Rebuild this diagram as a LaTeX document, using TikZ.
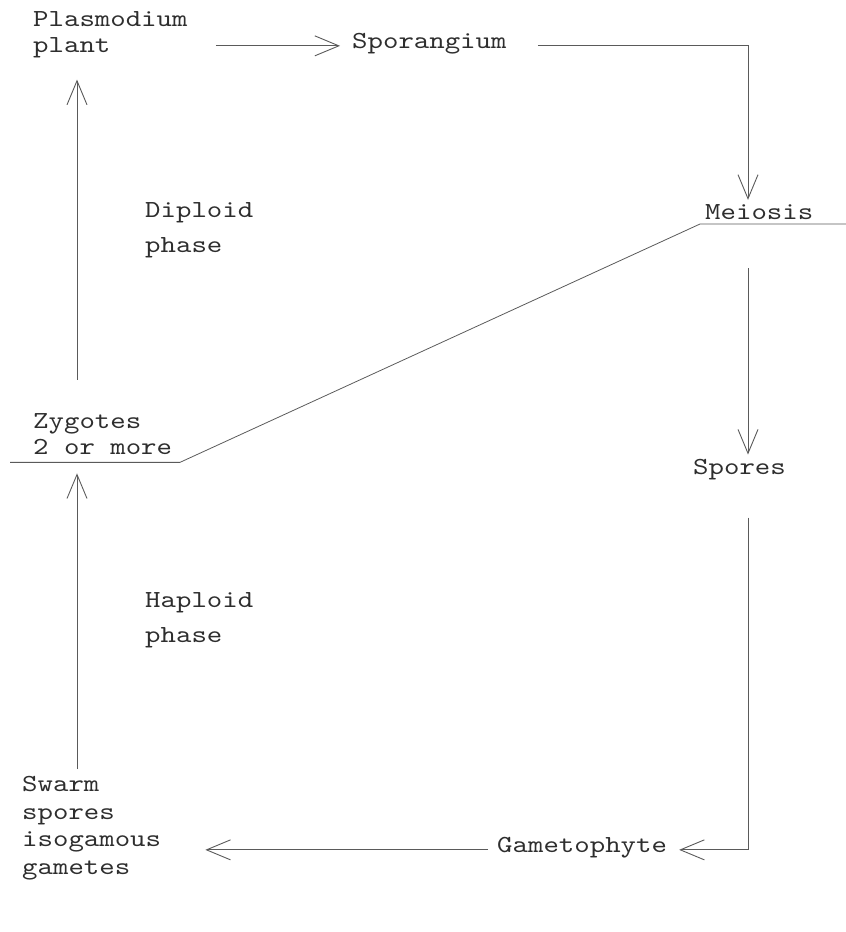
\documentclass[tikz,border=0pt]{standalone}
\usepackage{fontspec}
\newfontfamily\twfont{lmmono10-regular.otf}[FakeStretch=1.2]
\usetikzlibrary{arrows.meta}
\definecolor{ink}{HTML}{2E2E2E}
\definecolor{pen}{HTML}{5A5A5A}
\begin{document}
\begin{tikzpicture}[x=1pt,y=-1pt,
  lbl/.style={font=\twfont\fontsize{24.5}{26}\selectfont,
    text=ink, inner sep=0pt, align=left, anchor=base west},
  wide/.style={font=\twfont\fontsize{24.5}{35}\selectfont},
  ln/.style={draw=pen, line width=0.8pt},
  vh/.style={-{Straight Barb[length=24pt,width=20pt,line width=0.9pt]}}]
\useasboundingbox (0,0) rectangle (846,932);
\coordinate (rc) at (748,0);
\coordinate (lc) at (77,0);
% nodes (base anchor = baseline of the last line)
\node[lbl] (plas) at (33,52) {Plasmodium\\plant};
\node[lbl] (spor) at (352,48) {Sporangium};
\node[lbl] (meio) at (705,219) {Meiosis};
\node[lbl,wide] (dip) at (145,252) {Diploid\\phase};
\node[lbl] (zyg) at (33,454) {Zygotes\\2 or more};
\node[lbl] (spo) at (693,474) {Spores};
\node[lbl,wide] (hap) at (145,642) {Haploid\\phase};
\node[lbl] (game) at (497,852) {Gametophyte};
\node[lbl,font=\twfont\fontsize{24.5}{27.5}\selectfont] (swarm) at (22,874) {Swarm\\spores\\isogamous\\gametes};
% connectors
\draw[ln,vh] ([xshift=28pt]plas.east |- spor.mid west) -- ([xshift=-12pt]spor.mid west);
\draw[ln,vh] ([xshift=31pt]spor.mid east) -| ([yshift=4pt]meio.north -| rc);
\draw[ln,vh] ([yshift=-49pt]meio.base -| rc) -- ([yshift=4pt]spo.north -| rc);
\draw[ln,vh] ([yshift=-38pt]spo.south -| rc) |- ([xshift=12pt]game.mid east);
\draw[ln,vh] ([xshift=-9pt]game.mid west) -- ([xshift=44pt]swarm.east |- game.mid west);
\draw[ln,vh] ([yshift=7pt]swarm.north -| lc) -- ([yshift=-19pt]zyg.south -| lc);
\draw[ln,vh] ([yshift=33pt]zyg.north -| lc) -- ([yshift=-22pt]plas.south -| lc);
% meiosis / zygote link with underlines
\coordinate (mu) at ([shift={(-5pt,-5pt)}]meio.base west);
\coordinate (zu) at ([shift={(147pt,-8pt)}]zyg.south west);
\draw[ln] (846,0 |- mu) -- (mu) -- (zu) -- ([xshift=-23pt]zyg.south west |- zu);
\end{tikzpicture}
\end{document}
